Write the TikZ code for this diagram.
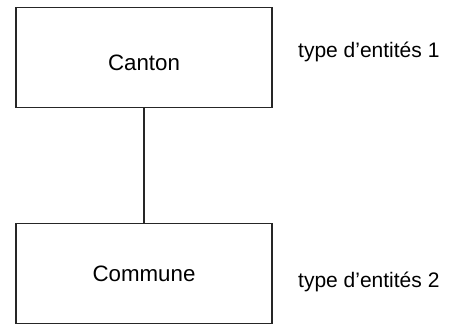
\documentclass[tikz,border=0pt]{standalone}
\usepackage{fontspec}
\setmainfont{Liberation Sans}
\usepackage{tikz}
\usetikzlibrary{arrows}
\tikzstyle{ent} = [rectangle, draw=black!85, line width=1.8pt,
    minimum width=256pt, minimum height=100pt, font=\fontsize{22.3}{26}\selectfont]
\tikzstyle{typ} = [anchor=base west, inner sep=0pt, font=\fontsize{21}{25}\selectfont]

\begin{document}
\begin{tikzpicture}[node distance=216pt]
  \useasboundingbox (0,0) rectangle (452pt,325pt);
  \node[ent, text height=27pt] (canton) at (144pt,267.5pt) {Canton};
  \node[ent]                  (commune) [below of=canton] {Commune};
  \node[typ] (type1) at (298pt,267.3pt) {type d'entités 1};
  \node[typ] (type2) at (298pt,37.3pt)  {type d'entités 2};

  \draw[black!85, line width=1.8pt] (canton) -- (commune);
\end{tikzpicture}
\end{document}
